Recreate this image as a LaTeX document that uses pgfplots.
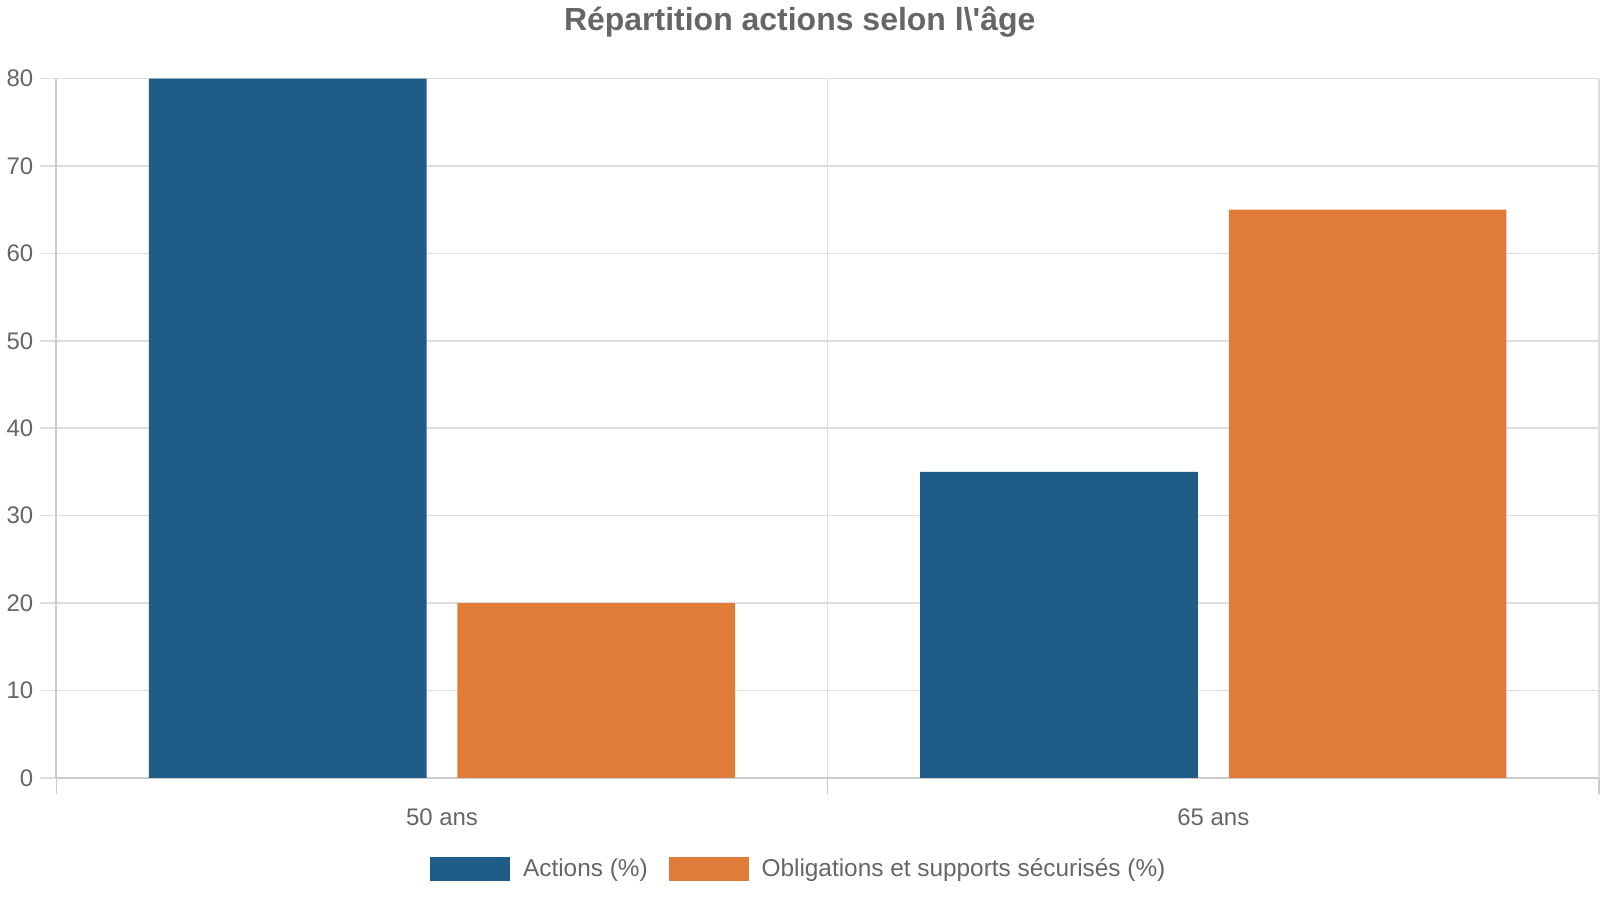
\documentclass[border=0pt]{standalone}
\usepackage{pgfplots}
\pgfplotsset{compat=1.18}
\usepackage{fontspec}
\setmainfont{Liberation Sans}
\definecolor{cblue}{HTML}{1F5C87}
\definecolor{corange}{HTML}{E07B3A}
\definecolor{txt}{HTML}{666666}
\definecolor{gridc}{HTML}{DDDDDD}
\definecolor{axc}{HTML}{CCCCCC}
\begin{document}
\begin{tikzpicture}
\begin{axis}[
  at={(0,0)}, anchor=south west,
  scale only axis, width=772bp, height=350bp,
  xmin=-0.5, xmax=1.5, ymin=0, ymax=80,
  ybar, bar width=0.36,
  axis x line*=bottom, axis y line*=left,
  axis line style={axc, line width=1bp},
  xtick={0,1}, xticklabels={50 ans, 65 ans},
  minor xtick={-0.5,0.5,1.5},
  ytick={0,10,...,80},
  tick align=outside,
  major tick length=8bp, minor tick length=8bp,
  major x tick style={draw=none},
  minor x tick style={axc, line width=0.75bp},
  y tick style={gridc, line width=0.75bp},
  xmajorgrids=false, xminorgrids=true, ymajorgrids=true,
  grid style={gridc, line width=0.75bp},
  minor grid style={gridc, line width=0.75bp},
  ticklabel style={font=\fontsize{12bp}{14bp}\selectfont, text=txt},
  xticklabel style={anchor=center, yshift=-11.5bp},
  /pgf/number format/assume math mode=true,
  legend style={at={(0.4819,-0.13)}, anchor=center, draw=none, fill=none,
    legend columns=-1, font=\fontsize{12.2bp}{14bp}\selectfont, text=txt,
    /tikz/every even column/.append style={column sep=8.5bp}},
  legend image code/.code={\fill[#1] (0bp,-6bp) rectangle (40bp,6bp); \path (44.5bp,0bp);},
]
\addplot[fill=cblue, draw=none, bar shift=-0.2] coordinates {(0,80) (1,35)};
\addplot[fill=corange, draw=none, bar shift=0.2] coordinates {(0,20) (1,65)};
\legend{Actions (\%), Obligations et supports sécurisés (\%)}
\end{axis}
\node[font=\bfseries\fontsize{16bp}{19bp}\selectfont, text=txt] at (372bp,378.3bp) {Répartition actions selon l\textbackslash\textquotesingle âge};
\path[use as bounding box] (-28bp,-61bp) rectangle (772bp,389bp);
\end{tikzpicture}
\end{document}
